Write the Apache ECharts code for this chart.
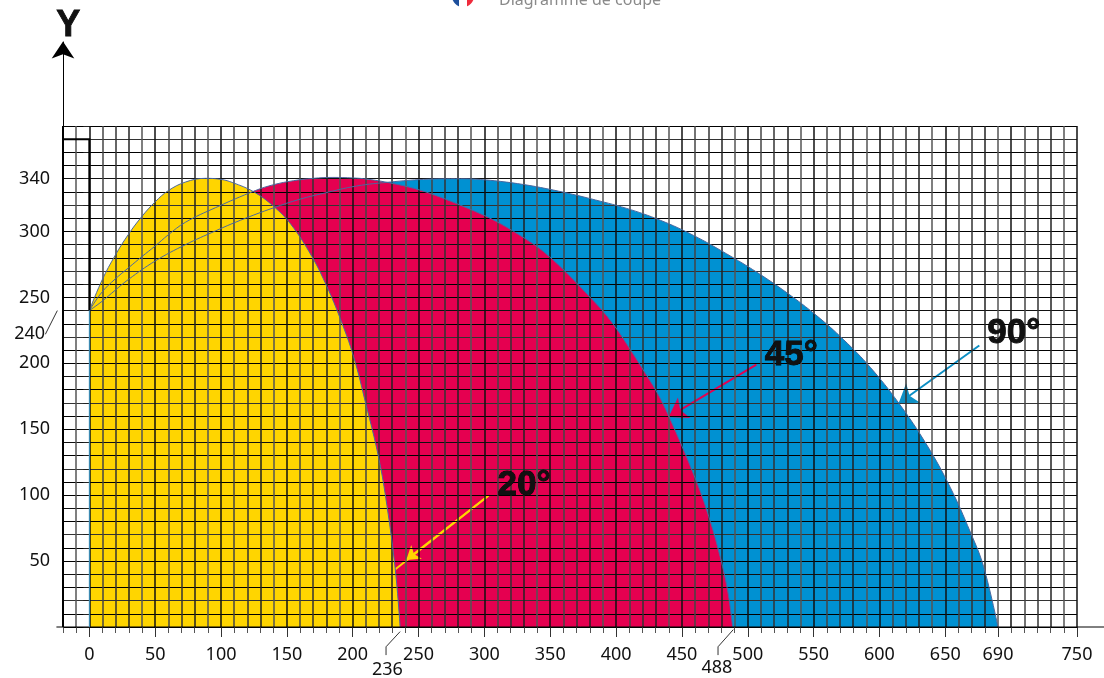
<!DOCTYPE html>
<html>
<head>
<meta charset="utf-8">
<title>Diagramme de coupe</title>
<script src="https://cdn.jsdelivr.net/npm/echarts@6/dist/echarts.min.js"></script>
<style>
    html, body { margin: 0; background: #fff; }
    #chart { width: 1104px; height: 678px; }
</style>
</head>
<body>
<div id="chart"></div>
<script>
// curves, [reach, height]
const curve20 = [[0, 240], [9.6, 263], [19.7, 282], [29.8, 298], [40, 311.5], [50, 322.5], [60, 331], [73, 337.5], [88, 340.3], [100, 339.5], [109, 337], [125, 330], [140, 319], [153, 305.5], [169, 281], [180.5, 258], [190.5, 234], [200.7, 205], [210, 169], [219.6, 129], [226, 92], [232.4, 43], [236, 0]];
const curve45 = [[0, 240], [9.6, 254], [19.7, 264], [29.8, 272.5], [40, 281], [50, 289], [60, 297.5], [73, 307], [95.7, 318], [126, 331], [140, 335.5], [155, 338.5], [170, 340.3], [185, 341], [200, 340.6], [211, 339.7], [228.5, 336.8], [246, 332.8], [264, 327], [284, 319], [296.9, 313.5], [309.6, 307.3], [322.2, 300], [340, 288.5], [352.6, 278], [365.5, 265.5], [380.4, 250], [390.5, 239], [400.7, 225.7], [410.8, 210.5], [419.6, 196.6], [431, 178], [440, 160], [460, 113], [470.3, 84], [479, 53.4], [485, 26], [488.5, 0]];
const curve90 = [[0, 240], [9.6, 247], [19.7, 255.5], [29.8, 263.7], [50, 277.6], [73, 290], [95.7, 300.4], [114.7, 308.5], [140, 318], [160, 324.5], [178, 329], [203, 334.5], [228.5, 337.5], [253.8, 339.5], [282, 340], [296.9, 339.4], [312, 338], [329.8, 335.6], [347.5, 332.4], [365.2, 328.6], [380.4, 324.9], [408, 317.5], [433.6, 308.5], [458.8, 297], [484, 283], [507, 269], [529.7, 253.5], [552.5, 236], [572.7, 218], [593, 197], [614.5, 170], [636, 138], [653.7, 106], [669, 72], [679, 46], [690, 0]];

// tick labels
const xLabels = [0, 50, 100, 150, 200, 250, 300, 350, 400, 450, 500, 550, 600, 650, 690, 750];
const xLongTicks = [0, 50, 100, 150, 200, 250, 300, 350, 400, 450, 500, 550, 600, 650, 690, 750];
const yLabels = [50, 100, 150, 200, 250, 300, 340];
const yLongTicks = [50, 100, 150, 200, 250, 300, 350];

// texts placed at data positions
const angleLabels = [
    { name: '20°', value: [330, 107.8] },
    { name: '45°', value: [533, 206] },
    { name: '90°', value: [702, 222.5] },
];
const axisName = [{ name: 'Y', value: [-16, 456] }];
const markedValues = [
    { name: '236', value: [226.3, -32.5] },
    { name: '488', value: [476.6, -31] },
    { name: '240', value: [-45.3, 222] },
];

// pointer arrows, tail then tip
const arrow20Shaft = [[303, 99.5], [232.4, 43.8]];
const arrow20Head = [[303, 99.5], [240.7, 50.9]];
const arrow45 = [[506.5, 199], [439.9, 159.3]];
const arrow90 = [[675.8, 213.5], [614.5, 169.5]];

// leader lines to the marked values
const leader236 = [[236, -3.5], [225.3, -15], [225.3, -21.3]];
const leader488 = [[489, -2], [477.4, -15], [477.4, -21.3]];
const leader240 = [[-24.3, 240], [-33.4, 222]];

// axis frame parts
const baseline = [[-25, 0], [771, 0]];
const yArrow = [[-20, 380], [-20, 444]];
const blackBox = [[-20, 370], [0, 370], [0, 240]];
const leftEdge = [[-20, 380], [-20, 0]];
const zeroEdge = [[0, 240], [0, 0]];

const FONT = '"Noto Sans"';
const YELLOW = '#ffd500';
const RED = '#e50050';
const BLUE = '#0091d2';
const OUTLINE = '#4a689f';
const SMOOTH = 0.4;

function fill(data, color) {
    return {
        type: 'line',
        data: data,
        smooth: SMOOTH,
        showSymbol: false,
        lineStyle: { width: 0 },
        areaStyle: { color: color, opacity: 1 },
        z: 1,
        silent: true,
    };
}

function outline(data) {
    return {
        type: 'line',
        data: data,
        smooth: SMOOTH,
        showSymbol: false,
        lineStyle: { width: 1, color: OUTLINE },
        z: 4,
        silent: true,
    };
}

function arrow(data, color, width, size, z) {
    return {
        type: 'lines',
        coordinateSystem: 'cartesian2d',
        clip: false,
        symbol: ['none', 'arrow'],
        symbolSize: size,
        lineStyle: { color: color, width: width, opacity: 1 },
        data: [{ coords: data }],
        z: z,
        silent: true,
    };
}

function plainLine(list, color, width, z) {
    return {
        type: 'lines',
        coordinateSystem: 'cartesian2d',
        clip: false,
        polyline: true,
        lineStyle: { color: color, width: width, opacity: 1 },
        data: list.map((coords) => ({ coords: coords })),
        z: z,
        silent: true,
    };
}

function textMarks(data, font, size, weight, border) {
    return {
        type: 'scatter',
        data: data,
        clip: false,
        symbolSize: 0,
        itemStyle: { opacity: 1 },
        label: {
            show: true,
            position: 'inside',
            formatter: (p) => p.name,
            fontFamily: font,
            fontSize: size,
            fontWeight: weight,
            color: '#111',
            textBorderColor: '#000',
            textBorderWidth: border,
        },
        z: 6,
        silent: true,
    };
}

const chart = echarts.init(document.getElementById('chart'), null, { renderer: 'canvas' });
chart.setOption({
    animation: false,
    backgroundColor: '#fff',
    title: {
        text: 'Diagramme de coupe',
        left: 494,
        top: -13,
        textStyle: { fontFamily: FONT, fontSize: 16, fontWeight: 'normal', color: '#8a8a8a' },
    },
    graphic: [
        {
            type: 'circle',
            shape: { cx: 463, cy: -4, r: 11 },
            style: {
                fill: {
                    type: 'linear', x: 0, y: 0, x2: 1, y2: 0,
                    colorStops: [
                        { offset: 0, color: '#1d4f9c' }, { offset: 0.34, color: '#1d4f9c' },
                        { offset: 0.34, color: '#fff' }, { offset: 0.66, color: '#fff' },
                        { offset: 0.66, color: '#ef2b3c' }, { offset: 1, color: '#ef2b3c' },
                    ],
                },
            },
        },
    ],
    grid: { left: 63, right: 27, top: 126, bottom: 51, outerBoundsMode: 'none' },
    xAxis: [
        {
            type: 'value',
            min: -20,
            max: 750,
            interval: 10,
            position: 'bottom',
            z: 3,
            axisLine: { show: false },
            axisLabel: { show: false },
            axisTick: { show: true, length: 6, lineStyle: { color: '#555' } },
            splitLine: { show: true, lineStyle: { width: 1.5, color: ['#222', '#555', '#111', '#444', '#333'] } },
        },
        {
            type: 'value',
            min: -20,
            max: 750,
            position: 'bottom',
            z: 3,
            axisLine: { show: false },
            splitLine: { show: false },
            axisTick: { show: true, length: 10, customValues: xLongTicks, lineStyle: { color: '#333' } },
            axisLabel: {
                show: true,
                customValues: xLabels,
                margin: 19,
                fontFamily: FONT,
                fontSize: 18,
                color: '#111',
            },
        },
    ],
    yAxis: [
        {
            type: 'value',
            min: 0,
            max: 380,
            interval: 10,
            position: 'left',
            z: 3,
            axisLine: { show: false },
            axisLabel: { show: false },
            axisTick: { show: true, length: 6, lineStyle: { color: '#222' } },
            splitLine: { show: true, lineStyle: { width: 1, color: ['#000', '#000', '#333', '#000', '#111'] } },
        },
        {
            type: 'value',
            min: 0,
            max: 380,
            position: 'left',
            z: 3,
            axisLine: { show: false },
            splitLine: { show: false },
            axisTick: { show: true, length: 10, customValues: yLongTicks, lineStyle: { color: '#111' } },
            axisLabel: {
                show: true,
                customValues: yLabels,
                margin: 13,
                padding: [3, 0, 0, 0],
                fontFamily: FONT,
                fontSize: 18,
                color: '#111',
            },
        },
    ],
    series: [
        fill(curve90, BLUE),
        fill(curve45, RED),
        fill(curve20, YELLOW),
        plainLine([arrow20Shaft], YELLOW, 2, 2),
        arrow(arrow20Head, YELLOW, 2, [9, 13], 2),
        arrow(arrow45, RED, 2, [8, 18], 2),
        arrow(arrow90, '#0d8fc4', 2, [8, 18], 2),
        outline(curve90),
        outline(curve45),
        outline(curve20),
        plainLine([baseline], '#000', 1, 5),
        plainLine([blackBox, leftEdge], '#000', 2, 5),
        plainLine([zeroEdge], '#3a9bd0', 1, 5),
        plainLine([leader236, leader488, leader240], '#333', 1, 5),
        arrow(yArrow, '#000', 1, [11, 17], 5),
        textMarks(angleLabels, '"Liberation Sans"', 35, 'bold', 0.8),
        textMarks(axisName, '"Liberation Sans"', 36, 'bold', 0.8),
        textMarks(markedValues, FONT, 18, 'normal', 0),
    ],
});
</script>
</body>
</html>
